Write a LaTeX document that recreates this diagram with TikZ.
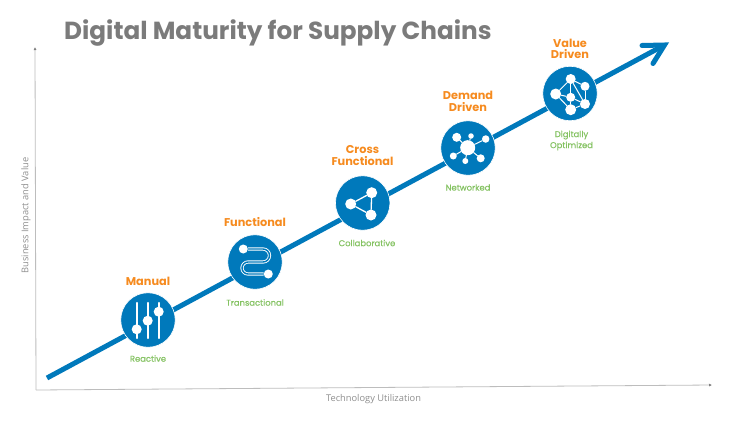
\documentclass[tikz,border=0pt]{standalone}
\usepackage{fontspec}
\setmainfont{Open Sans}
\newfontfamily\headfont{Poppins}
\newfontfamily\subfont{Poppins}[FakeBold=0.35]
\usetikzlibrary{arrows.meta}
\definecolor{mainblue}{HTML}{0079BB}
\definecolor{stageorange}{HTML}{F68B1F}
\definecolor{stagegreen}{HTML}{84C261}
\definecolor{titlegray}{HTML}{7B7B7B}
\definecolor{axisgray}{HTML}{BDBDBD}
\definecolor{labelgray}{HTML}{8F8F8F}
\tikzset{
  x=1pt,y=-1pt,
  stagedisc/.style={circle,fill=mainblue,draw=white,line width=.6pt,minimum size=54.5pt,inner sep=0pt},
  stagename/.style={font=\headfont\bfseries\fontsize{11.3}{11.5}\selectfont,text=stageorange,align=center},
  stagesub/.style={font=\subfont\fontsize{8.4}{11}\selectfont,text=stagegreen,align=center},
  axisline/.style={draw=axisgray,line width=.8pt,-{Latex[length=3pt,width=3pt,color=gray]}},
  axislabel/.style={font=\fontsize{9.3}{10}\selectfont,text=labelgray},
  iconline/.style={draw=white,line width=1.3pt,line cap=round},
  dot/.style={circle,fill=white,inner sep=0pt,minimum size=#1},
  dot/.default=9pt
}
\begin{document}
\begin{tikzpicture}
\useasboundingbox (0,0) rectangle (750,421);
\fill[white] (0,0) rectangle (750,421);
% axes
\coordinate (origin) at (36,390);
\coordinate (xend) at (712,385);
\coordinate (yend) at (35,47);
\draw[axisline] (origin) -- (xend);
\draw[axisline] (origin) -- (yend);
\node[axislabel] (xlabel) at (373.5,399) {Technology Utilization};
\node[axislabel,rotate=90] (ylabel) at (26,215.5) {Business Impact and Value};
% title
\node[font=\headfont\bfseries\fontsize{24.7}{25}\selectfont,text=titlegray,anchor=west,inner sep=0pt] (title) at (64,33.5) {Digital Maturity for Supply Chains};
% main arrow
\coordinate (start) at (47,378);
\coordinate (tip) at (664.5,45);
\coordinate (barbA) at (642,45.5);
\coordinate (barbB) at (653,63.5);
\draw[mainblue,line width=5pt] (start) -- (tip);
\draw[mainblue,line width=5pt,line cap=round,line join=miter] (barbA) -- (tip) -- (barbB);
% discs
\node[stagedisc] (manual) at (148,320) {};
\node[stagedisc] (functional) at (255,262) {};
\node[stagedisc] (cross) at (362.7,203) {};
\node[stagedisc] (demand) at (468,148) {};
\node[stagedisc] (value) at (570,93.5) {};
% stage labels
\node[stagename] (lmanual) at (148,281) {Manual};
\node[stagesub] (smanual) at (148,358.5) {Reactive};
\node[stagename] (lfunctional) at (255,222.5) {Functional};
\node[stagesub] (sfunctional) at (255,302.5) {Transactional};
\node[stagename] (lcross) at (362.5,155.5) {Cross\\Functional};
\node[stagesub] (scross) at (367,243) {Collaborative};
\node[stagename] (ldemand) at (468,101.5) {Demand\\Driven};
\node[stagesub] (sdemand) at (468,187.5) {Networked};
\node[stagename] (lvalue) at (570,49) {Value\\Driven};
\node[stagesub] (svalue) at (571.5,140.5) {Digitally\\Optimized};
% icon: manual
\foreach \bx in {136.7,147.7,158.7}
  \draw[iconline,line width=2.4pt] (\bx,303) -- (\bx,338);
\node[dot=10pt] at (136.7,329.3) {};
\node[dot=10pt] at (147.7,320.7) {};
\node[dot=10pt] at (158.7,311.7) {};
% icon: functional
\node[dot=9pt] (fa) at (243.3,249) {};
\node[dot=9pt] (fb) at (268.3,274) {};
\draw[draw=white,line width=.9pt,double=mainblue,double distance=1.4pt]
  (fa) -- (263,249) arc[start angle=-90,end angle=90,radius=6.5] -- (248,262) arc[start angle=-90,end angle=-270,radius=6] -- (fb);
% icon: cross
\node[dot=11pt] (ca) at (350.7,204) {};
\node[dot=11pt] (cb) at (371.7,192.7) {};
\node[dot=11pt] (cc) at (371,215) {};
\draw[iconline] (ca) -- (cb) -- (cc) -- (ca);
% icon: demand
\node[dot=15pt] (dc) at (467.7,147.7) {};
\node[dot=9pt] (d1) at (456.7,137.3) {};
\node[dot=5.5pt] (d2) at (471,136) {};
\node[dot=7.5pt] (d3) at (485.7,139) {};
\node[dot=8pt] (d4) at (480.7,158.3) {};
\node[dot=6pt] (d5) at (465.3,161) {};
\node[dot=7pt] (d6) at (453.3,156) {};
\foreach \n in {d1,d2,d3,d4,d5,d6}
  \draw[iconline,line width=1pt] (dc) -- (\n);
% icon: value
\node[dot=10pt] (v1) at (570.7,79) {};
\node[dot=9pt] (v2) at (585,86.3) {};
\node[dot=11pt] (v3) at (555.7,94) {};
\node[dot=9pt] (v4) at (570.7,97.3) {};
\node[dot=10pt] (v5) at (585,104) {};
\node[dot=11pt] (v6) at (570.7,109.7) {};
\foreach \a/\b in {v1/v2,v1/v3,v1/v4,v1/v5,v2/v5,v3/v6,v3/v4,v4/v6,v4/v5,v5/v6}
  \draw[iconline,line width=1pt] (\a) -- (\b);
\end{tikzpicture}
\end{document}
